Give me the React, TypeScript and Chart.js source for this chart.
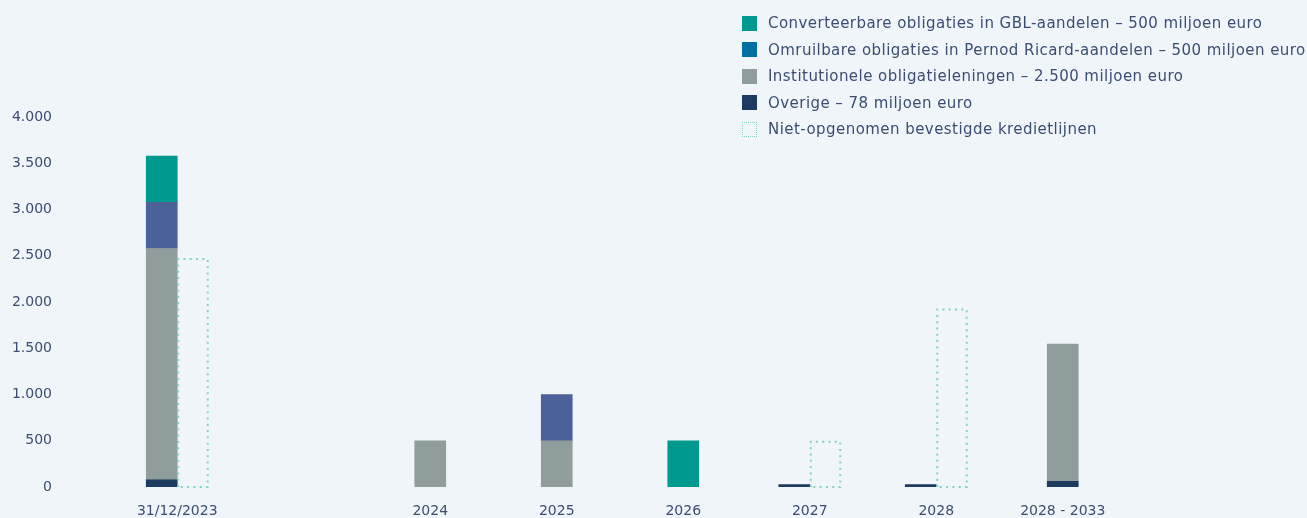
import React, { useEffect, useRef } from 'react';
import { Chart, registerables } from 'chart.js';

Chart.register(...registerables);

// ---- Data (values in miljoen euro) ----
const categories: string[] = ['31/12/2023', '', '2024', '2025', '2026', '2027', '2028', '2028 - 2033'];
const overige: (number | null)[] = [78, null, null, null, null, 25, 25, 60];
const institutioneel: (number | null)[] = [2500, null, 500, 500, null, null, null, 1485];
const pernod: (number | null)[] = [500, null, null, 500, null, null, null, null];
const gbl: (number | null)[] = [500, null, null, null, 500, null, null, null];
const kredietlijnen: (number | null)[] = [2475, null, null, null, null, 500, 1930, null];
const yTicks: number[] = [0, 500, 1000, 1500, 2000, 2500, 3000, 3500, 4000];

const legendItems = [
  { label: 'Converteerbare obligaties in GBL-aandelen – 500 miljoen euro', color: '#00998f', dotted: false },
  { label: 'Omruilbare obligaties in Pernod Ricard-aandelen – 500 miljoen euro', color: '#0070a0', dotted: false },
  { label: 'Institutionele obligatieleningen – 2.500 miljoen euro', color: '#8f9e9c', dotted: false },
  { label: 'Overige – 78 miljoen euro', color: '#1d3a61', dotted: false },
  { label: 'Niet-opgenomen bevestigde kredietlijnen', color: '#7fd3c0', dotted: true },
];

const TEXT = '#3b4d70';
const BG = '#f0f5fa';
const FONT = "'DejaVu Sans', sans-serif";

const dottedPlugin = {
  id: 'dottedBars',
  afterDatasetsDraw(chart: any) {
    const ctx = chart.ctx;
    chart.data.datasets.forEach((ds: any, i: number) => {
      if (!ds.dotted) return;
      const meta = chart.getDatasetMeta(i);
      meta.data.forEach((el: any, j: number) => {
        const v = ds.data[j];
        if (v == null) return;
        const { x, y, base, width } = el.getProps(['x', 'y', 'base', 'width'], true);
        const left = x - width / 2 + 1;
        const right = x + width / 2 - 0.5;
        ctx.save();
        ctx.strokeStyle = ds.dotColor;
        ctx.lineWidth = 2;
        ctx.setLineDash([2, 4.3]);
        ctx.beginPath();
        ctx.moveTo(left, base);
        ctx.lineTo(left, y + 1);
        ctx.lineTo(right, y + 1);
        ctx.lineTo(right, base);
        ctx.lineTo(left, base);
        ctx.stroke();
        ctx.restore();
      });
    });
  },
};

export default function App() {
  const ref = useRef<HTMLCanvasElement | null>(null);

  useEffect(() => {
    if (!ref.current) return;
    const chart = new Chart(ref.current, {
      type: 'bar',
      data: {
        labels: categories,
        datasets: [
          { label: 'Overige', data: overige, backgroundColor: '#1d3a61', stack: 'schuld' },
          { label: 'Institutionele obligatieleningen', data: institutioneel, backgroundColor: '#8f9e9c', stack: 'schuld' },
          { label: 'Omruilbare obligaties in Pernod Ricard-aandelen', data: pernod, backgroundColor: '#4a6199', stack: 'schuld' },
          { label: 'Converteerbare obligaties in GBL-aandelen', data: gbl, backgroundColor: '#00998f', stack: 'schuld' },
          {
            label: 'Niet-opgenomen bevestigde kredietlijnen',
            data: kredietlijnen,
            backgroundColor: 'rgba(0,0,0,0)',
            borderWidth: 0,
            stack: 'krediet',
            dotted: true,
            dotColor: '#7fd3c0',
          } as any,
        ],
      },
      options: {
        animation: false,
        responsive: false,
        devicePixelRatio: 1,
        datasets: { bar: { skipNull: true, barThickness: 31 } },
        layout: { padding: { top: 117, left: 12, right: 181, bottom: 0 } },
        plugins: { legend: { display: false }, tooltip: { enabled: false } },
        scales: {
          x: {
            stacked: true,
            grid: { display: false, drawTicks: false },
            border: { display: false },
            afterFit: (scale: any) => {
              scale.height = 33;
              scale.paddingLeft = 0;
              scale.paddingRight = 0;
            },
            ticks: { color: TEXT, font: { family: FONT, size: 14 }, padding: 16, maxRotation: 0, autoSkip: false },
          },
          y: {
            stacked: true,
            min: 0,
            max: 4000,
            afterBuildTicks: (scale: any) => {
              scale.ticks = yTicks.map((v) => ({ value: v }));
            },
            afterFit: (scale: any) => {
              scale.width = 102;
              scale.paddingTop = 0;
              scale.paddingBottom = 0;
            },
            grid: { display: false, drawTicks: false },
            border: { display: false },
            ticks: {
              color: TEXT,
              font: { family: FONT, size: 14 },
              padding: 62,
              callback: (v: any) => Number(v).toLocaleString('nl-NL'),
            },
          },
        },
      },
      plugins: [dottedPlugin],
    });
    return () => chart.destroy();
  }, []);

  return (
    <div style={{ position: 'fixed', left: 0, top: 0, width: 1307, height: 520, background: BG, overflow: 'hidden' }}>
      <canvas ref={ref} width={1307} height={520} style={{ position: 'absolute', left: 0, top: 0 }} />
      <div style={{ position: 'absolute', left: 742, top: 10, fontFamily: FONT, fontSize: 15, letterSpacing: '0.45px', color: TEXT }}>
        {legendItems.map((it) => (
          <div key={it.label} style={{ display: 'flex', alignItems: 'center', height: 26.5, whiteSpace: 'nowrap' }}>
            <span
              style={{
                display: 'inline-block',
                boxSizing: 'border-box',
                width: 15,
                height: 15,
                background: it.dotted ? 'transparent' : it.color,
                border: it.dotted ? `1.5px dotted ${it.color}` : 'none',
                marginRight: 11,
                flex: 'none',
              }}
            />
            <span>{it.label}</span>
          </div>
        ))}
      </div>
    </div>
  );
}
